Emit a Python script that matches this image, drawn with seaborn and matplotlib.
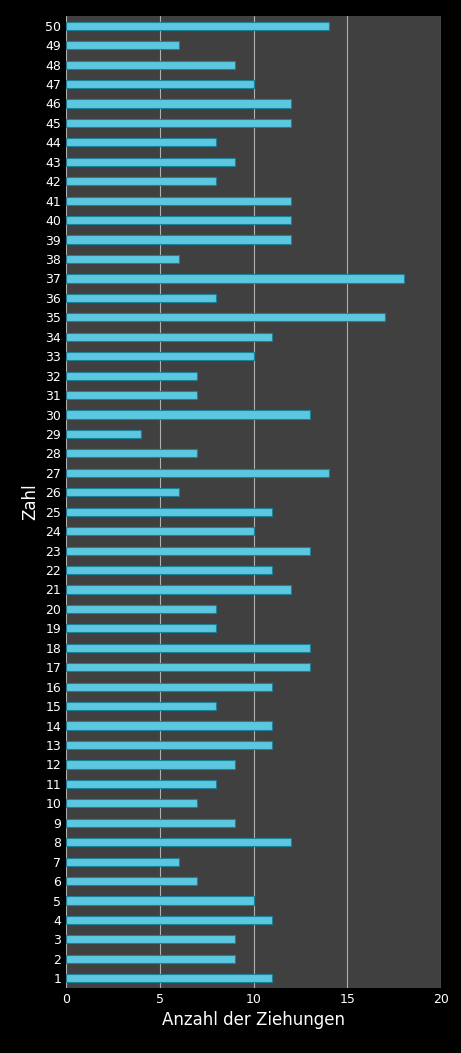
import matplotlib
matplotlib.use("Agg")
import matplotlib.pyplot as plt
import seaborn as sns
import pandas as pd

numbers = list(range(1, 51))
counts = [11, 9, 9, 11, 10, 7, 6, 12, 9, 7,
          8, 9, 11, 11, 8, 11, 13, 13, 8, 8,
          12, 11, 13, 10, 11, 6, 14, 7, 4, 13,
          7, 7, 10, 11, 17, 8, 18, 6, 12, 12,
          12, 8, 9, 8, 12, 12, 10, 9, 6, 14]
xticks = [0, 5, 10, 15, 20]

df = pd.DataFrame({"Zahl": [str(n) for n in numbers][::-1], "Anzahl": counts[::-1]})

sns.set_style("dark")
plt.rcParams['font.family'] = ['Verdana', 'DejaVu Sans']
fig = plt.figure(figsize=(4.61, 10.53), dpi=100, facecolor="black")
ax = fig.add_axes([66/461, 1-988/1053, 375/461, 972/1053])
ax.set_facecolor("#404040")
sns.barplot(data=df, x="Anzahl", y="Zahl", orient="h", ax=ax, width=0.42,
            color="#5cc8e0", edgecolor="#1e7f99", linewidth=0.8, saturation=1)
ax.set_xlim(0, 20)
ax.set_xticks(xticks)
ax.xaxis.grid(True, color="#b0b0b0", linewidth=0.8)
ax.yaxis.grid(False)
ax.set_axisbelow(True)
ax.set_ylim(49.5, -0.5)
ax.tick_params(colors="white", labelsize=9, length=0)
for lbl in ax.get_xticklabels() + ax.get_yticklabels():
    lbl.set_color("white")
ax.set_xlabel("Anzahl der Ziehungen", color="white", fontsize=12)
ax.set_ylabel("Zahl", color="white", fontsize=12)
for s in ax.spines.values():
    s.set_visible(False)
fig.savefig("out.png", dpi=100, facecolor="black")
